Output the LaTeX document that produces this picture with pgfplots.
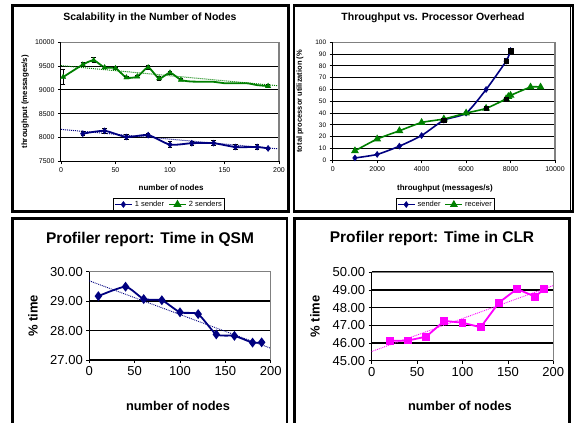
\documentclass[border=0pt]{standalone}
\usepackage{fontspec}
\setmainfont{Liberation Sans}
\usepackage{pgfplots}
\pgfplotsset{compat=1.18}
\definecolor{navy}{RGB}{0,0,128}
\definecolor{xgreen}{RGB}{0,128,0}
\definecolor{mag}{RGB}{255,0,255}
\definecolor{pgray}{RGB}{128,128,128}
\pgfplotsset{
  every axis title shift=0pt,
  excel/.style={
    scale only axis, anchor=south west,
    axis x line*=bottom, axis y line*=left,
    axis line style={black, line width=1pt, -},
    tick align=outside, major tick length=3pt,
    tick style={black, line width=0.8pt},
    ymajorgrids, grid style={black, line width=1pt},
    /pgf/number format/assume math mode=true,
    /pgf/number format/1000 sep={},
    scaled ticks=false,
    clip=false,
    legend style={draw=black, line width=0.8pt, fill=white, legend columns=-1,
      inner sep=1pt, /tikz/every even column/.append style={column sep=2pt}},
    legend cell align=left,
  },
  ebar/.style={error bars/.cd, y dir=both, y explicit,
    error bar style={black, line width=1pt},
    error mark options={rotate=90, mark size=2.2pt, black, line width=1pt}},
}
\begin{document}
\begin{tikzpicture}
\fill[white] (0pt,0pt) rectangle (579pt,423pt);
% ---------- Panel 1 ----------
\begin{axis}[excel, at={(61pt,261.7pt)}, width=218pt, height=119pt,
  xmin=0, xmax=200, ymin=7500, ymax=10000,
  xtick={0,50,100,150,200}, ytick={7500,8000,8500,9000,9500,10000},
  tick label style={font=\fontsize{7}{8}\selectfont},
  title={Scalability in the Number of Nodes},
  title style={font=\bfseries\fontsize{10.5}{12}\selectfont, at={(axis description cs:0.408,1.204)}, anchor=center},
  xlabel={number of nodes},
  xlabel style={font=\bfseries\fontsize{8}{9}\selectfont, at={(axis description cs:0.505,-0.224)}, anchor=center},
  ylabel={throughput (messages/s)},
  ylabel style={font=\bfseries\fontsize{7.8}{9}\selectfont, at={(axis description cs:-0.165,0.5)}, anchor=center},
  legend style={at={(axis description cs:0.495,-0.363)}, anchor=center, font=\fontsize{7.5}{8}\selectfont},
]
\addplot[navy, densely dotted, line width=1pt, forget plot] coordinates {(0,8170) (200,7760)};
\addplot[xgreen, densely dotted, line width=1pt, forget plot] coordinates {(0,9510) (200,9085)};
\addplot[navy, line width=1.8pt, smooth, tension=0.4, mark=diamond*, mark size=3pt, mark options={solid, fill=navy, line width=0.5pt}, ebar]
  coordinates {(20,8080) +- (0,40) (40,8140) +- (0,50) (60,8010) +- (0,50) (80,8050) +- (0,30) (100,7850) +- (0,70) (120,7880) +- (0,40) (140,7880) +- (0,50) (160,7800) +- (0,50) (180,7800) +- (0,50) (190,7770) +- (0,30)};
\addlegendentry{1 sender}
\addplot[xgreen, line width=1.8pt, smooth, tension=0.4, forget plot]
  coordinates {(2,9270) (20,9530) (30,9620) (40,9470) (50,9455) (60,9260) (70,9280) (80,9470) (90,9240) (100,9360) (110,9210) (120,9175) (140,9170) (150,9140) (170,9140) (180,9100) (190,9080)};
\addplot[xgreen, only marks, mark=triangle*, mark size=3pt, mark options={fill=xgreen}, forget plot, ebar]
  coordinates {(2,9270) +- (0,160) (20,9530) +- (0,40) (30,9620) +- (0,50) (40,9470) +- (0,30) (50,9455) +- (0,25) (60,9260) +- (0,30) (70,9280) +- (0,30) (80,9470) +- (0,40) (90,9240) +- (0,40) (100,9360) +- (0,30) (110,9210) +- (0,20) (190,9080) +- (0,40)};
\addlegendimage{xgreen, line width=1.8pt, mark=triangle*, mark size=3pt, mark options={fill=xgreen}}
\addlegendentry{2 senders}
\draw[pgray, line width=1.2pt] (rel axis cs:0,1) -- (rel axis cs:1,1) -- (rel axis cs:1,0);
\end{axis}
% ---------- Panel 2 ----------
\begin{axis}[excel, at={(332.7pt,262.7pt)}, width=222.3pt, height=118pt,
  xmin=0, xmax=10000, ymin=0, ymax=100,
  xtick={0,2000,4000,6000,8000,10000}, ytick={0,10,...,100},
  x tick label style={font=\fontsize{7}{8}\selectfont},
  y tick label style={font=\fontsize{6.5}{7}\selectfont},
  title={Throughput vs. Processor Overhead},
  title style={font=\bfseries\fontsize{10.5}{12}\selectfont, at={(axis description cs:0.451,1.206)}, anchor=center},
  xlabel={throughput (messages/s)},
  xlabel style={font=\bfseries\fontsize{8}{9}\selectfont, at={(axis description cs:0.505,-0.235)}, anchor=center},
  ylabel={total processor utilization (\%},
  ylabel style={font=\bfseries\fontsize{7.5}{9}\selectfont, at={(axis description cs:-0.147,0.5)}, anchor=center},
  legend style={at={(axis description cs:0.507,-0.375)}, anchor=center, font=\fontsize{7.5}{8}\selectfont},
]
\addplot[navy, line width=1.6pt, smooth, tension=0.4, mark=diamond*, mark size=3pt, mark options={solid, fill=navy, line width=0.5pt}]
  coordinates {(1000,2) (2000,5) (3000,12) (4000,21) (5000,34) (6000,40) (6900,60) (7800,84) (8000,93)};
\addlegendentry{sender}
\addplot[xgreen, line width=1.6pt, smooth, tension=0.4, mark=triangle*, mark size=3pt, mark options={fill=xgreen}]
  coordinates {(1000,8) (2000,18) (3000,25) (4000,32) (5000,35) (6000,40) (6900,44) (7800,52) (7900,54) (8000,55) (8900,62) (9350,62)};
\addlegendentry{receiver}
\addplot[black, only marks, mark=square*, mark size=2.2pt, forget plot, ebar]
  coordinates {(5000,34) +- (0,1.5) (6900,44) +- (0,1.5) (7800,52) +- (0,1.5) (7800,84) +- (0,2) (8000,93) +- (0,1.5)};
\draw[pgray, line width=1.2pt] (rel axis cs:0,1) -- (rel axis cs:1,1) -- (rel axis cs:1,0);
\end{axis}
% ---------- Panel 3 ----------
\begin{axis}[excel, at={(89.3pt,63pt)}, width=181.4pt, height=88.3pt,
  xmin=0, xmax=200, ymin=27, ymax=30,
  xtick={0,50,100,150,200}, ytick={27,28,29,30},
  grid style={black, line width=1.6pt},
  tick label style={font=\fontsize{13}{14}\selectfont},
  y tick label style={/pgf/number format/.cd, fixed, fixed zerofill, precision=2},
  title={Profiler report: Time in QSM},
  title style={font=\bfseries\fontsize{15.5}{17}\selectfont, at={(axis description cs:0.335,1.370)}, anchor=center},
  xlabel={number of nodes},
  xlabel style={font=\bfseries\fontsize{12.8}{14}\selectfont, at={(axis description cs:0.489,-0.521)}, anchor=center},
  ylabel={\% time},
  ylabel style={font=\bfseries\fontsize{13}{14}\selectfont, at={(axis description cs:-0.31,0.5)}, anchor=center},
]
\addplot[navy, densely dotted, line width=0.9pt] coordinates {(0,29.69) (200,27.40)};
\addplot[navy, line width=1.8pt, smooth, tension=0.35, mark=diamond*, mark size=3.5pt, mark options={solid, fill=navy}]
  coordinates {(10,29.17) (40,29.49) (60,29.07) (80,29.03) (100,28.62) (120,28.56) (140,27.87) (160,27.82) (180,27.59) (190,27.60)};
\draw[pgray, line width=1.2pt] (rel axis cs:0,1) -- (rel axis cs:1,1) -- (rel axis cs:1,0);
\end{axis}
% ---------- Panel 4 ----------
\begin{axis}[excel, at={(371.7pt,62.3pt)}, width=181.6pt, height=88.4pt,
  xmin=0, xmax=200, ymin=45, ymax=50,
  xtick={0,50,100,150,200}, ytick={45,46,...,50},
  grid style={black, line width=1.6pt},
  tick label style={font=\fontsize{13}{14}\selectfont},
  y tick label style={/pgf/number format/.cd, fixed, fixed zerofill, precision=2},
  title={Profiler report: Time in CLR},
  title style={font=\bfseries\fontsize{15.5}{17}\selectfont, at={(axis description cs:0.332,1.377)}, anchor=center},
  xlabel={number of nodes},
  xlabel style={font=\bfseries\fontsize{12.8}{14}\selectfont, at={(axis description cs:0.486,-0.512)}, anchor=center},
  ylabel={\% time},
  ylabel style={font=\bfseries\fontsize{13}{14}\selectfont, at={(axis description cs:-0.312,0.5)}, anchor=center},
]
\addplot[mag, densely dotted, line width=0.9pt] coordinates {(0,45.52) (200,49.25)};
\addplot[mag, line width=1.8pt, mark=square*, mark size=3pt, mark options={solid, fill=mag}]
  coordinates {(20,46.12) (40,46.14) (60,46.36) (80,47.25) (100,47.15) (120,46.89) (140,48.28) (160,49.06) (180,48.62) (190,49.06)};
\draw[pgray, line width=1.2pt] (rel axis cs:0,1) -- (rel axis cs:1,1) -- (rel axis cs:1,0);
\end{axis}
% ---------- Frames ----------
\draw[line width=2.6pt] (12.5pt,417.5pt) rectangle (288.5pt,211.5pt);
\draw[line width=2.6pt] (294pt,417.5pt) rectangle (573pt,211.5pt);
\draw[line width=0.8pt] (570pt,417.5pt) -- (570pt,211.5pt);
\draw[line width=2.6pt] (12.5pt,0pt) -- (12.5pt,204.5pt) -- (287pt,204.5pt) -- (287pt,0pt);
\draw[line width=2.6pt] (294.5pt,0pt) -- (294.5pt,204.5pt) -- (569.5pt,204.5pt) -- (569.5pt,0pt);
\end{tikzpicture}
\end{document}
